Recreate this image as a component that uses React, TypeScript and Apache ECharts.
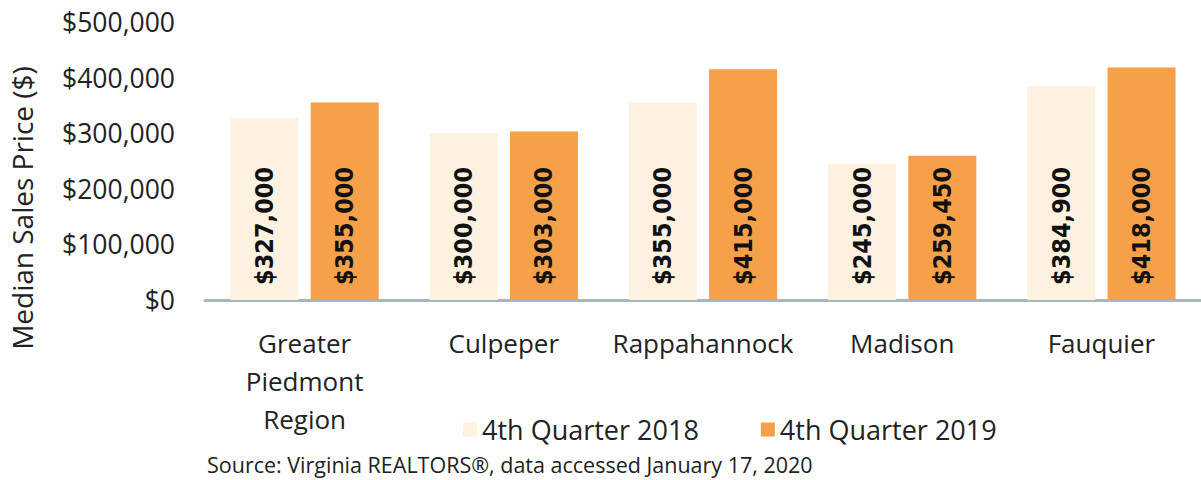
import React, { useEffect, useRef } from "react";
import * as echarts from "echarts";

const categories = ["Greater\nPiedmont\nRegion", "Culpeper", "Rappahannock", "Madison", "Fauquier"];
const q2018 = [327000, 300000, 355000, 245000, 384900];
const q2019 = [355000, 303000, 415000, 259450, 418000];
const seriesNames = ["4th Quarter 2018", "4th Quarter 2019"];
const yTicks = { min: 0, max: 500000, interval: 100000 };

const fmt = (v: number) => "$" + v.toLocaleString("en-US");

export default function App() {
  const ref = useRef<HTMLDivElement>(null);
  useEffect(() => {
    const chart = echarts.init(ref.current!, null, { renderer: "svg" });
    const label = {
      show: true,
      position: "insideBottom",
      rotate: 90,
      align: "left",
      verticalAlign: "middle",
      distance: 15,
      formatter: (p: any) => fmt(p.value),
      fontFamily: "DejaVu Sans Condensed",
      fontWeight: "bold",
      fontSize: 25,
      color: "#111",
    };
    chart.setOption({
      animation: false,
      grid: { left: 205, right: -4, top: 22, bottom: 180 },
      legend: {
        data: seriesNames,
        left: 458,
        top: 411,
        itemWidth: 14,
        itemHeight: 14,
        itemGap: 62,
        icon: "rect",
        textStyle: { fontFamily: "Open Sans", fontSize: 27, color: "#222" },
      },
      xAxis: {
        type: "category",
        data: categories,
        axisLine: { lineStyle: { color: "#A9B7BC", width: 3 } },
        axisTick: { show: false },
        axisLabel: {
          fontFamily: "Open Sans",
          fontSize: 26,
          color: "#222",
          lineHeight: 38,
          margin: 24,
          interval: 0,
        },
      },
      yAxis: {
        type: "value",
        min: yTicks.min,
        max: yTicks.max,
        interval: yTicks.interval,
        splitLine: { show: false },
        axisLine: { show: false },
        axisLabel: {
          formatter: (v: number) => fmt(v),
          fontFamily: "Open Sans",
          fontSize: 26.5,
          color: "#222",
          margin: 30,
        },
      },
      graphic: [
        {
          type: "text",
          x: 22,
          y: 208,
          rotation: Math.PI / 2,
          style: {
            text: "Median Sales Price ($)",
            fontFamily: "Open Sans",
            fontSize: 28,
            fill: "#222",
            align: "center",
            verticalAlign: "middle",
          },
        },
        {
          type: "text",
          left: 207,
          top: 453,
          style: {
            text: "Source: Virginia REALTORS®, data accessed January 17, 2020",
            fontFamily: "Open Sans",
            fontSize: 21.5,
            fill: "#222",
          },
        },
      ],
      series: [
        {
          name: seriesNames[0],
          type: "bar",
          data: q2018,
          barWidth: 68,
          barGap: "18%",
          itemStyle: { color: "#FDF1DF" },
          label,
        },
        {
          name: seriesNames[1],
          type: "bar",
          data: q2019,
          barWidth: 68,
          barGap: "18%",
          itemStyle: { color: "#F6A04A" },
          label,
        },
      ],
    });
    return () => chart.dispose();
  }, []);
  return <div ref={ref} style={{ width: 1201, height: 480, position: "absolute", left: 0, top: 0 }} />;
}
